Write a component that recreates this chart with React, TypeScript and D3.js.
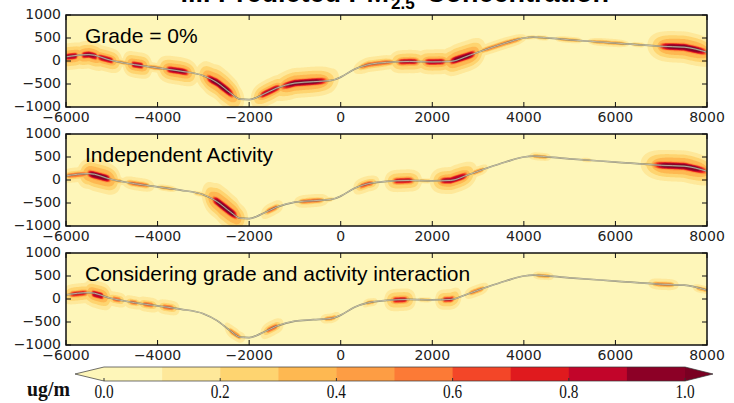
import React, { useEffect, useRef } from "react";
import * as d3 from "d3";

// road profile (distance along x, elevation-like y offset)
const roadX = [-6000, -5500, -5000, -4500, -4000, -3500, -3000, -2700, -2400, -2200, -2000, -1700, -1400, -1000, -600, -200, 0, 300, 600, 1000, 1500, 2000, 2400, 2800, 3200, 3600, 4000, 4200, 5000, 6000, 7000, 7500, 8000];
const roadY = [90, 140, 10, -80, -150, -220, -320, -470, -700, -830, -840, -730, -590, -480, -450, -420, -350, -180, -80, -30, -10, -20, -10, 120, 260, 390, 500, 520, 460, 390, 320, 300, 190];

// hot segments along the road: [from x, to x, concentration]
const gradeSpots: [number, number, number][] = [
  [-6000, -5760, 0.9], [-5650, -5320, 0.92], [-5300, -4970, 0.85], [-4890, -4650, 0.4],
  [-4560, -4320, 0.88], [-4200, -3900, 0.45], [-3800, -3330, 0.92], [-2920, -2350, 0.98],
  [-1760, -1330, 0.85], [-1300, -300, 0.97], [420, 1150, 0.6], [1250, 1690, 0.82],
  [1840, 2280, 0.86], [2390, 2930, 0.97], [3040, 3960, 0.5], [4060, 4240, 0.25],
  [4300, 4500, 0.3], [4730, 5230, 0.35], [5450, 6250, 0.4], [6390, 6600, 0.3], [6970, 8000, 1.0],
];
const activitySpots: [number, number, number][] = [
  [-5980, -5540, 0.6], [-5520, -5040, 1.0], [-5000, -4800, 0.4], [-4650, -4200, 0.55],
  [-3950, -3650, 0.35], [-3180, -2960, 0.3], [-2790, -2270, 1.0], [-1610, -1390, 0.55],
  [-890, -390, 0.55], [-330, -200, 0.3], [420, 700, 0.62], [1150, 1580, 0.8],
  [1730, 1950, 0.3], [2170, 2760, 0.9], [2890, 3110, 0.45], [4200, 4510, 0.4],
  [5290, 5450, 0.25], [6600, 6800, 0.25], [6830, 8000, 1.0],
];
const interactionSpots: [number, number, number][] = [
  [-5910, -5540, 0.75], [-5430, -5190, 0.9], [-4970, -4820, 0.6], [-4600, -4450, 0.55],
  [-4310, -4100, 0.6], [-3880, -3660, 0.6], [-2420, -2200, 0.5], [-1610, -1390, 0.6],
  [-340, -120, 0.45], [570, 710, 0.4], [1140, 1450, 0.8], [1730, 1950, 0.3],
  [2240, 2460, 0.75], [2820, 3110, 0.5], [4280, 4570, 0.4], [6830, 7270, 0.5], [7780, 8000, 0.4],
];

const panelLabels = ["Grade = 0%", "Independent Activity", "Considering grade and activity interaction"];
const panelSpots = [gradeSpots, activitySpots, interactionSpots];

const xTicks = [-6000, -4000, -2000, 0, 2000, 4000, 6000, 8000];
const yTicks = [1000, 500, 0, -500, -1000];
const levels = [0.1, 0.2, 0.3, 0.4, 0.5, 0.6, 0.7, 0.8, 0.9];
const cbarTicks = [0, 0.2, 0.4, 0.6, 0.8, 1.0];

const levelColors = ["#fef6b9", "#fee89a", "#fed470", "#feb851", "#fd9d44", "#fc7a36", "#f34628", "#e01a1e", "#c2052a", "#8c0026"];

const fmt = (v: number) => (v < 0 ? "\u2212" + Math.abs(v) : String(v));

export default function App() {
  const ref = useRef<SVGSVGElement>(null);

  useEffect(() => {
    const svg = d3.select(ref.current);
    svg.selectAll("*").remove();

    const left = 66, right = 707, panelH = 92;
    const tops = [15, 134, 253];
    const nx = right - left;

    const x = d3.scaleLinear().domain([-6000, 8000]).range([0, nx]);
    const y = d3.scaleLinear().domain([1000, -1000]).range([0, panelH]);
    const road = d3.scaleLinear().domain(roadX).range(roadY);
    const colorOf = d3.scaleThreshold<number, string>().domain(levels).range(levelColors);

    const defs = svg.append("defs");

    tops.forEach((top, p) => {
      const g = svg.append("g").attr("transform", `translate(${left},${top})`);
      defs.append("clipPath").attr("id", "clip" + p)
        .append("rect").attr("width", nx).attr("height", panelH);

      // concentration grid: sharp core along the road plus a faint halo
      const values = new Float64Array(nx * panelH);
      const spots = panelSpots[p].map(([a, b, lv]) => {
        const p0 = x(a), p1 = x(b);
        return { mid: (p0 + p1) / 2, half: (p1 - p0) / 2, lv, wc: 1.2 + 2.8 * lv };
      });
      for (let i = 0; i < nx; i++) {
        const px = i + 0.5;
        const ry = y(road(x.invert(px)));
        const slope = (y(road(x.invert(px + 3))) - y(road(x.invert(px - 3)))) / 6;
        const cs = 1 / Math.sqrt(1 + slope * slope);
        for (const s of spots) {
          const da = Math.abs(px - s.mid);
          if (da > s.half + 30) continue;
          const along = Math.exp(-Math.pow(da / (s.half + 1), 6));
          const alongHalo = Math.exp(-Math.pow(da / (s.half + 3 + 6 * s.lv), 4));
          if (along < 0.01 && alongHalo < 0.01) continue;
          const wh = s.wc * (1.6 + 1.6 * s.lv);
          for (let j = 0; j < panelH; j++) {
            const perp = (j + 0.5 - ry) * cs;
            const q = perp / s.wc;
            const core = s.lv * along * Math.exp(-q * q * q * q);
            const halo = 0.45 * s.lv * alongHalo * Math.exp(-(perp / wh) * (perp / wh));
            const v = Math.max(core, halo);
            const k = j * nx + i;
            if (v > values[k]) values[k] = v;
          }
        }
      }

      const plot = g.append("g").attr("clip-path", `url(#clip${p})`);
      plot.append("rect").attr("width", nx).attr("height", panelH).attr("fill", levelColors[0]);

      const contours = d3.contours().size([nx, panelH]).thresholds(levels)(Array.from(values));
      const path = d3.geoPath();
      plot.selectAll("path.c").data(contours).join("path")
        .attr("class", "c")
        .attr("d", d => path(d))
        .attr("fill", d => colorOf(d.value + 0.001));

      // the road itself
      const line = d3.line<number>().x(d => x(d)).y(d => y(road(d))).curve(d3.curveMonotoneX);
      plot.append("path").attr("d", line(roadX)).attr("fill", "none")
        .attr("stroke", "#66665a").attr("stroke-width", 1.7).attr("stroke-opacity", 0.75);
      plot.append("path").attr("d", line(roadX)).attr("fill", "none")
        .attr("stroke", "#e2dec8").attr("stroke-width", 0.7).attr("stroke-opacity", 0.9);

      // frame + inward ticks
      g.append("rect").attr("width", nx).attr("height", panelH)
        .attr("fill", "none").attr("stroke", "#111").attr("stroke-width", 1.5);
      xTicks.forEach(t => {
        g.append("line").attr("x1", x(t)).attr("x2", x(t)).attr("y1", panelH).attr("y2", panelH - 5).attr("stroke", "#111");
        g.append("line").attr("x1", x(t)).attr("x2", x(t)).attr("y1", 0).attr("y2", 5).attr("stroke", "#111");
        g.append("text").attr("x", x(t)).attr("y", panelH + 15)
          .attr("text-anchor", "middle").attr("font-family", "DejaVu Sans").attr("font-size", 14)
          .attr("fill", "#222").text(fmt(t));
      });
      yTicks.forEach(t => {
        g.append("line").attr("x1", 0).attr("x2", 5).attr("y1", y(t)).attr("y2", y(t)).attr("stroke", "#111");
        g.append("line").attr("x1", nx).attr("x2", nx - 5).attr("y1", y(t)).attr("y2", y(t)).attr("stroke", "#111");
        g.append("text").attr("x", -5).attr("y", y(t) + 4)
          .attr("text-anchor", "end").attr("font-family", "DejaVu Sans").attr("font-size", 14)
          .attr("fill", "#222").text(fmt(t));
      });

      g.append("text").attr("x", 19).attr("y", 28)
        .attr("font-family", "Liberation Sans, Arial").attr("font-size", 21).attr("fill", "#000")
        .text(panelLabels[p]);
    });

    // title (clipped by the top edge, as in the source figure)
    const title = svg.append("g").attr("font-family", "Liberation Sans, Arial").attr("font-weight", "bold");
    title.append("text").attr("x", 389).attr("y", 2).attr("text-anchor", "end").attr("font-size", 27).text("iii. Predicted PM");
    title.append("text").attr("x", 391).attr("y", 9).attr("font-size", 17).text("2.5");
    title.append("text").attr("x", 426).attr("y", 2).attr("font-size", 27).text("Concentration");

    // colorbar
    const cb = d3.scaleLinear().domain([0, 1]).range([104, 685]);
    const cbTop = 367, cbBot = 381, cbMid = (cbTop + cbBot) / 2;
    const bins = d3.range(10).map(i => [i / 10, (i + 1) / 10]);
    svg.append("g").selectAll("rect").data(bins).join("rect")
      .attr("x", d => cb(d[0])).attr("width", d => cb(d[1]) - cb(d[0]) + 0.5)
      .attr("y", cbTop).attr("height", cbBot - cbTop)
      .attr("fill", (d, i) => levelColors[i]);
    svg.append("path").attr("d", `M${cb(0)},${cbTop}L75,${cbMid}L${cb(0)},${cbBot}Z`).attr("fill", levelColors[0]);
    svg.append("path").attr("d", `M${cb(1)},${cbTop}L713,${cbMid}L${cb(1)},${cbBot}Z`).attr("fill", "#7a0022");
    svg.append("path")
      .attr("d", `M${cb(0)},${cbTop}L75,${cbMid}L${cb(0)},${cbBot}L${cb(1)},${cbBot}L713,${cbMid}L${cb(1)},${cbTop}Z`)
      .attr("fill", "none").attr("stroke", "#333").attr("stroke-width", 0.7);
    cbarTicks.forEach(t => {
      svg.append("line").attr("x1", cb(t)).attr("x2", cb(t)).attr("y1", cbBot).attr("y2", cbBot - 3).attr("stroke", "#333");
      svg.append("text")
        .attr("transform", `translate(${cb(t)},398) scale(0.85,1)`)
        .attr("text-anchor", "middle")
        .attr("font-family", "Liberation Serif, serif").attr("font-size", 18)
        .attr("fill", "#111").text(t.toFixed(1));
    });
    svg.append("text").attr("transform", "translate(27,396) scale(0.9,1)")
      .attr("font-family", "Liberation Serif, serif").attr("font-size", 22).attr("font-weight", "bold")
      .attr("fill", "#111").text("ug/m");
  }, []);

  return (
    <svg ref={ref} width={734} height={403}
      style={{ position: "absolute", left: 0, top: 0, background: "#fff" }} />
  );
}
